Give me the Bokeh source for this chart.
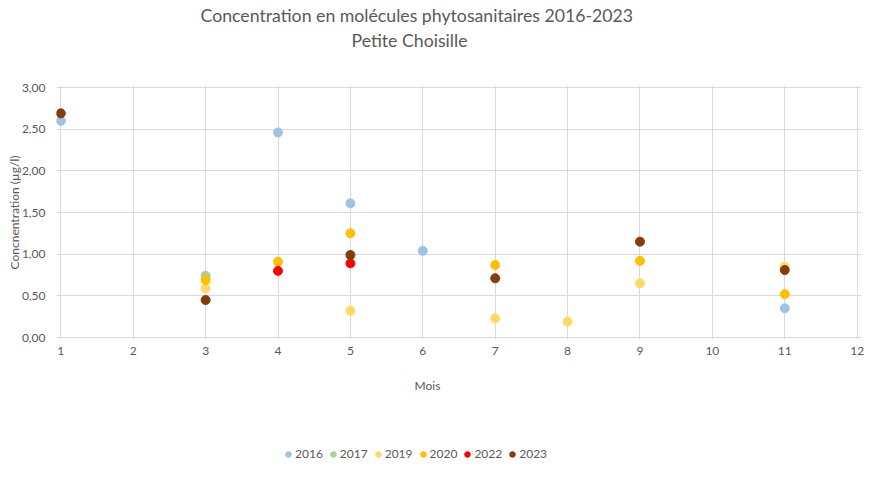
from bokeh.plotting import figure
from bokeh.layouts import column
from bokeh.models import (Title, Legend, LegendItem, CustomJSTickFormatter,
                          FixedTicker, Range1d)
from bokeh.embed import file_html
from bokeh.resources import INLINE

years = ["2016", "2017", "2019", "2020", "2022", "2023"]
colors = ["#9DC3E6", "#A9D18E", "#FFD966", "#FFC000", "#FF0000", "#843C0C"]

months_2016 = [1, 4, 5, 6, 11]
values_2016 = [2.60, 2.46, 1.61, 1.04, 0.35]
months_2017 = [3]
values_2017 = [0.74]
months_2019 = [3, 5, 7, 8, 9, 11]
values_2019 = [0.59, 0.32, 0.23, 0.19, 0.65, 0.85]
months_2020 = [3, 4, 5, 7, 9, 11]
values_2020 = [0.69, 0.91, 1.25, 0.87, 0.92, 0.52]
months_2022 = [4, 5]
values_2022 = [0.80, 0.89]
months_2023 = [1, 3, 5, 7, 9, 11]
values_2023 = [2.69, 0.45, 0.99, 0.71, 1.15, 0.81]

series = [
    (months_2016, values_2016),
    (months_2017, values_2017),
    (months_2019, values_2019),
    (months_2020, values_2020),
    (months_2022, values_2022),
    (months_2023, values_2023),
]

x_ticks = list(range(1, 13))
y_ticks = [0, 0.5, 1.0, 1.5, 2.0, 2.5, 3.0]

FONT = "Lato"
GREY = "#595959"

fig = figure(width=865, height=441, output_backend="svg",
             toolbar_location=None,
             x_range=Range1d(0.94, 12.06), y_range=Range1d(-0.024, 3.024),
             min_border_left=56, min_border_right=4,
             min_border_top=83, min_border_bottom=102)
fig.outline_line_color = None
fig.background_fill_color = "white"
fig.border_fill_color = "white"

# titles (stacked outward from the frame)
spacer = Title(text=" ", align="left", offset=0, text_font=FONT,
               text_font_size="17.7px", text_color="white", standoff=12)
fig.add_layout(spacer, "above")
sub = Title(text="Petite Choisille", align="left", offset=295,
            text_font=FONT, text_font_size="17.7px", text_color=GREY,
            text_font_style="normal", standoff=0)
fig.add_layout(sub, "above")
main = Title(text="Concentration en molécules phytosanitaires 2016-2023",
             align="left", offset=144, text_font=FONT,
             text_font_size="17.7px", text_color=GREY,
             text_font_style="normal", standoff=4)
fig.add_layout(main, "above")

# axes
fmt = CustomJSTickFormatter(code="return tick.toFixed(2).replace('.', ',');")
fig.yaxis.formatter = fmt
fig.xaxis.ticker = FixedTicker(ticks=x_ticks)
fig.yaxis.ticker = FixedTicker(ticks=y_ticks)
for ax in (fig.xaxis[0], fig.yaxis[0]):
    ax.axis_line_color = None
    ax.major_tick_line_color = None
    ax.minor_tick_line_color = None
    ax.major_tick_out = 0
    ax.major_tick_in = 0
    ax.minor_tick_out = 0
    ax.minor_tick_in = 0
    ax.major_label_text_font = FONT
    ax.major_label_text_font_size = "12px"
    ax.major_label_text_color = GREY
    ax.axis_label_text_font = FONT
    ax.axis_label_text_font_size = "12px"
    ax.axis_label_text_color = GREY
    ax.axis_label_text_font_style = "normal"
fig.xaxis.major_label_standoff = 7
fig.yaxis.major_label_standoff = 11
fig.yaxis.axis_label = "Concnentration (µg/l)"
fig.yaxis.axis_label_standoff = -3

xtitle = Title(text="Mois", align="left", offset=358, text_font=FONT,
               text_font_size="12px", text_color=GREY,
               text_font_style="normal", standoff=37)
fig.add_layout(xtitle, "below")

fig.xgrid.grid_line_color = "#D9D9D9"
fig.ygrid.grid_line_color = "#D9D9D9"
fig.xgrid.grid_line_width = 1
fig.ygrid.grid_line_width = 1

for col, (xs, ys) in zip(colors, series):
    fig.scatter(xs, ys, size=9, marker="circle", fill_color=col,
                line_color=col)

# legend strip below the chart (its own renderers lie outside its view)
leg = figure(width=865, height=20, output_backend="svg",
             toolbar_location=None, x_range=Range1d(100, 101),
             y_range=Range1d(100, 101), min_border=0,
             x_axis_type=None, y_axis_type=None)
leg.grid.visible = False
leg.outline_line_color = None
leg.border_fill_color = "white"
leg.background_fill_color = "white"

items = []
for yr, col, (xs, ys) in zip(years, colors, series):
    r = leg.scatter(xs, ys, size=9, marker="circle", fill_color=col,
                    line_color=col)
    items.append(LegendItem(label=yr, renderers=[r]))

legend = Legend(items=items, orientation="horizontal", location=(225, 0),
                border_line_color=None, background_fill_alpha=0,
                label_text_font=FONT, label_text_font_size="12px",
                label_text_color=GREY, glyph_width=14, glyph_height=14,
                label_standoff=0, spacing=3, padding=0, margin=0,
                label_height=14)
leg.add_layout(legend, "center")

p = column(fig, leg, spacing=0)

open("out.html", "w").write(file_html(p, INLINE))
